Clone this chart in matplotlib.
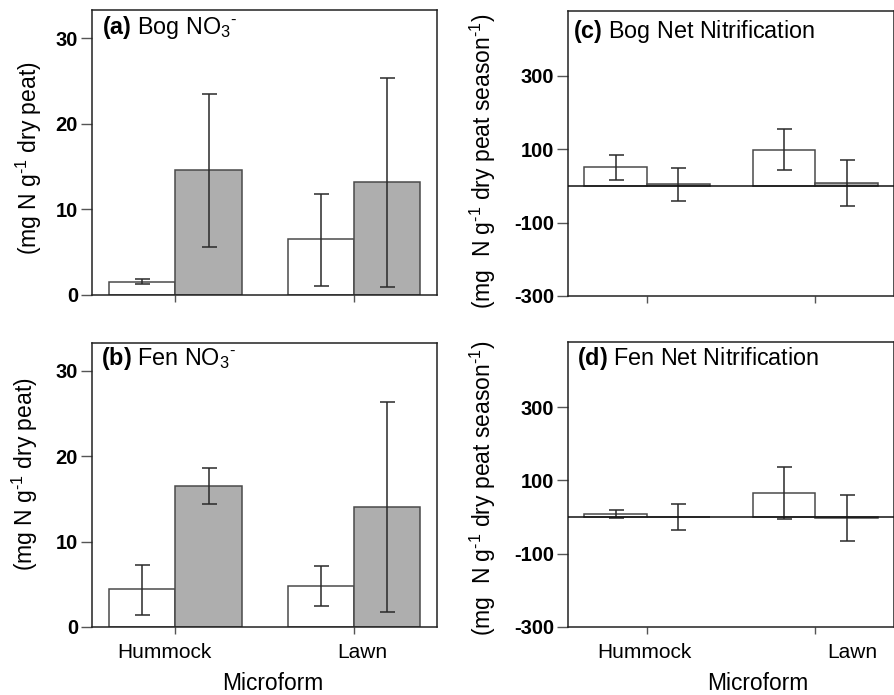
import numpy as np
import matplotlib.pyplot as plt

plt.rcParams['font.family'] = ['Liberation Sans', 'DejaVu Sans']
plt.rcParams['mathtext.fontset'] = 'custom'
plt.rcParams['mathtext.rm'] = 'Liberation Sans'
plt.rcParams['mathtext.it'] = 'Liberation Sans:italic'
plt.rcParams['mathtext.bf'] = 'Liberation Sans:bold'

microforms = ['Hummock', 'Lawn']

# (a) Bog NO3-
bog_no3_white = [1.55, 6.5]
bog_no3_white_lo = [1.3, 1.1]
bog_no3_white_hi = [1.9, 11.8]
bog_no3_gray = [14.6, 13.15]
bog_no3_gray_lo = [5.6, 0.95]
bog_no3_gray_hi = [23.5, 25.3]

# (b) Fen NO3-
fen_no3_white = [4.4, 4.75]
fen_no3_white_lo = [1.4, 2.45]
fen_no3_white_hi = [7.3, 7.1]
fen_no3_gray = [16.5, 14.05]
fen_no3_gray_lo = [14.4, 1.8]
fen_no3_gray_hi = [18.65, 26.4]

# (c) Bog net nitrification
bog_nit_white = [51, 99]
bog_nit_white_lo = [16, 44]
bog_nit_white_hi = [85, 155]
bog_nit_gray = [5, 8]
bog_nit_gray_lo = [-41, -55]
bog_nit_gray_hi = [48, 72]

# (d) Fen net nitrification
fen_nit_white = [8, 65]
fen_nit_white_lo = [-2, -6]
fen_nit_white_hi = [19, 137]
fen_nit_gray = [-1, -3]
fen_nit_gray_lo = [-35, -65]
fen_nit_gray_hi = [36, 61]

W, H = 895, 695
fig = plt.figure(figsize=(W / 100, H / 100), dpi=100)


def px_axes(l, t, r, b):
    return fig.add_axes([l / W, 1 - b / H, (r - l) / W, (b - t) / H])


ax_a = px_axes(92, 10, 437, 295)
ax_b = px_axes(92, 342.7, 437, 627)
ax_c = px_axes(568.3, 10.7, 893.8, 296)
ax_d = px_axes(568.3, 342.3, 893.8, 626.7)

x = np.arange(len(microforms))
bw = 0.372
edge = '#4a4a4a'
ecol = '#2a2a2a'


def draw(ax, white, wlo, whi, gray, glo, ghi):
    xw = x - bw / 2
    xg = x + bw / 2
    ax.bar(xw, white, bw, color='white', edgecolor=edge, linewidth=1.1, zorder=2)
    ax.bar(xg, gray, bw, color='#aeaeae', edgecolor=edge, linewidth=1.1, zorder=2)
    for xs, v, lo, hi in [(xw, white, wlo, whi), (xg, gray, glo, ghi)]:
        v = np.array(v)
        yerr = [v - np.array(lo), np.array(hi) - v]
        ax.errorbar(xs, v, yerr=yerr, fmt='none', ecolor=ecol, elinewidth=1.1,
                    capsize=5.4, capthick=1.1, zorder=3)
    ax.set_xlim(-0.468, 1.466)
    ax.set_xticks(x)
    ax.set_xticklabels([])
    for s in ax.spines.values():
        s.set_color('#222222')
        s.set_linewidth(1.1)
    ax.tick_params(axis='y', length=8, width=1, color='#555555', labelsize=14.5, pad=2)
    ax.tick_params(axis='x', length=5, width=1, color='#555555')


def title(ax, txt, dx, dy):
    ax.text(dx / ax.bbox.width, 1 - dy / ax.bbox.height, txt, transform=ax.transAxes,
            ha='left', va='top', fontsize=16.8)


draw(ax_a, bog_no3_white, bog_no3_white_lo, bog_no3_white_hi,
     bog_no3_gray, bog_no3_gray_lo, bog_no3_gray_hi)
draw(ax_b, fen_no3_white, fen_no3_white_lo, fen_no3_white_hi,
     fen_no3_gray, fen_no3_gray_lo, fen_no3_gray_hi)
draw(ax_c, bog_nit_white, bog_nit_white_lo, bog_nit_white_hi,
     bog_nit_gray, bog_nit_gray_lo, bog_nit_gray_hi)
draw(ax_d, fen_nit_white, fen_nit_white_lo, fen_nit_white_hi,
     fen_nit_gray, fen_nit_gray_lo, fen_nit_gray_hi)

for ax in (ax_a, ax_b):
    ax.set_ylim(0, 33.3)
    ax.set_yticks([0, 10, 20, 30])
for ax in (ax_c, ax_d):
    ax.set_ylim(-300, 478)
    ax.set_yticks([-300, -100, 100, 300])
    ax.axhline(0, color='#111111', linewidth=1.1, zorder=4)
for ax in (ax_a, ax_b, ax_c, ax_d):
    ax.set_yticklabels([str(int(t)) for t in ax.get_yticks()],
                       fontweight='bold', fontsize=14.5)

title(ax_a, r'$\mathbf{(a)}$ Bog NO$_3$$^{\text{-}}$', 10, 4)
title(ax_b, r'$\mathbf{(b)}$ Fen NO$_3$$^{\text{-}}$', 9.5, 2)
title(ax_c, r'$\mathbf{(c)}$ Bog Net Nitrification', 4.5, 7)
title(ax_d, r'$\mathbf{(d)}$ Fen Net Nitrification', 8.5, 3)

ylab_no3 = r'(mg N g$^{\text{-}1}$ dry peat)'
ylab_nit = r'(mg  N g$^{\text{-}1}$ dry peat season$^{\text{-}1}$)'
ax_a.set_ylabel(ylab_no3, fontsize=16.5, va='center')
ax_a.yaxis.set_label_coords(-0.183, 0.479)
ax_b.set_ylabel(ylab_no3, fontsize=16.5, va='center')
ax_b.yaxis.set_label_coords(-0.194, 0.538)
ax_c.set_ylabel(ylab_nit, fontsize=16.5, va='center')
ax_c.yaxis.set_label_coords(-0.262, 0.471)
ax_d.set_ylabel(ylab_nit, fontsize=16.5, va='center')
ax_d.yaxis.set_label_coords(-0.262, 0.487)

# category labels sit a little off the ticks in the original
for ax, offs in ((ax_b, [-0.06, 0.045]), (ax_d, [-0.015, 0.222])):
    for i, name in enumerate(microforms):
        ax.text(x[i] + offs[i], -0.09, name, transform=ax.get_xaxis_transform(),
                ha='center', va='center', fontsize=15)

fig.text(272.5 / W, 1 - 684 / H, 'Microform', ha='center', va='center', fontsize=16.4)
fig.text(758 / W, 1 - 684 / H, 'Microform', ha='center', va='center', fontsize=16.4)

fig.savefig('out.png', dpi=100)
